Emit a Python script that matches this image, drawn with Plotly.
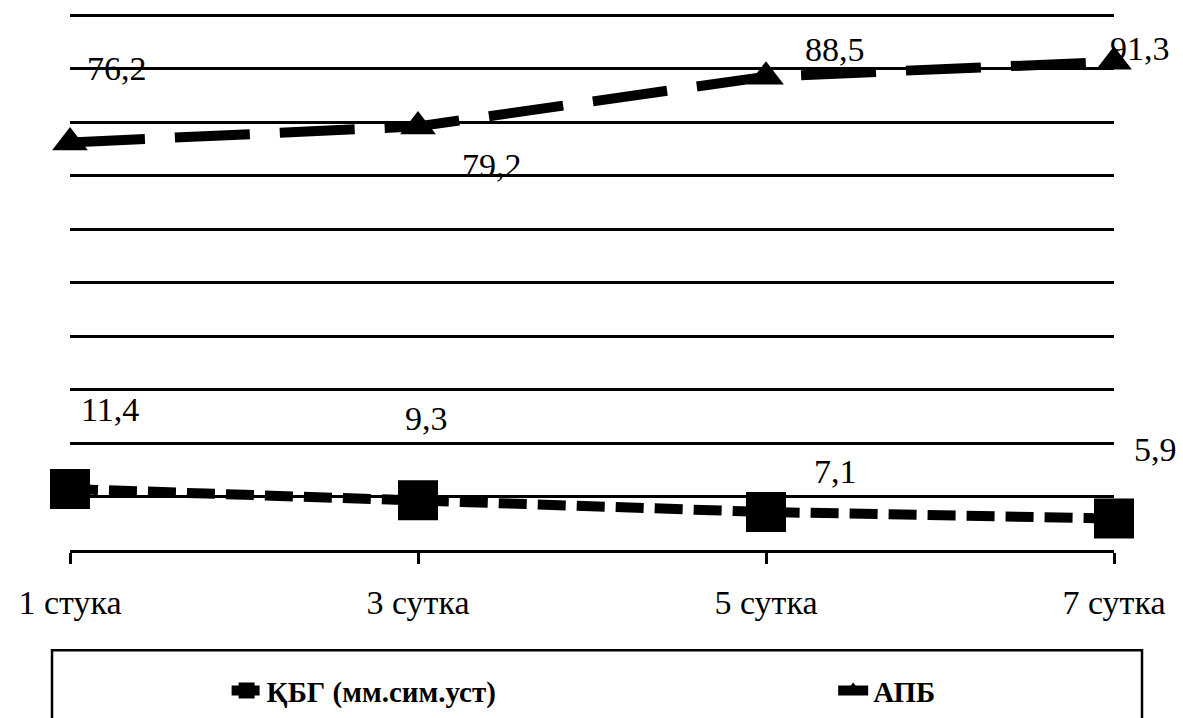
import plotly.graph_objects as go

categories = ["1 стука", "3 сутка", "5 сутка", "7 сутка"]
kbg_values = [11.4, 9.3, 7.1, 5.9]
apb_values = [76.2, 79.2, 88.5, 91.3]
kbg_labels = ["11,4", "9,3", "7,1", "5,9"]
apb_labels = ["76,2", "79,2", "88,5", "91,3"]
series_names = ["ҚБГ (мм.сим.уст)", "АПБ"]

FONT = "Liberation Serif"

fig = go.Figure()
fig.add_trace(go.Scatter(
    x=categories, y=kbg_values, name=series_names[0], mode="lines+markers",
    line=dict(color="black", width=10, dash="28px,11px"),
    marker=dict(symbol="square", size=40, color="black"),
    cliponaxis=False, legend="legend",
))
fig.add_trace(go.Scatter(
    x=categories, y=apb_values, name=series_names[1], mode="lines+markers",
    line=dict(color="black", width=10, dash="75px,30px"),
    marker=dict(symbol="triangle-up", size=31, color="black"),
    cliponaxis=False, legend="legend2",
))

# data labels (pixel offsets from each point)
kbg_shift = [(40, 80), (8, 82), (69, 41), (41, 69)]
apb_shift = [(47, 74), (74, -39), (69, 27), (26, 13)]
for cat, val, lab, (dx, dy) in zip(categories, kbg_values, kbg_labels, kbg_shift):
    fig.add_annotation(x=cat, y=val, text=lab, showarrow=False, xshift=dx, yshift=dy,
                       font=dict(family=FONT, size=34, color="black"))
for cat, val, lab, (dx, dy) in zip(categories, apb_values, apb_labels, apb_shift):
    fig.add_annotation(x=cat, y=val, text=lab, showarrow=False, xshift=dx, yshift=dy,
                       font=dict(family=FONT, size=34, color="black"))

# legend frame
fig.add_shape(type="rect", xref="paper", yref="paper",
              x0=(52 - 70) / 1044, x1=(1142 - 70) / 1044,
              y0=(550 - 650) / 535, y1=(550 - 730) / 535,
              line=dict(color="black", width=2.5), fillcolor="rgba(0,0,0,0)", layer="above")

legend_common = dict(
    orientation="h", y=-0.262, yanchor="middle", xanchor="left",
    font=dict(family=FONT, size=29, color="black", weight="bold"),
    bgcolor="rgba(0,0,0,0)", borderwidth=0, itemsizing="trace",
)

fig.update_layout(
    width=1183, height=718,
    margin=dict(l=70, r=69, t=13, b=168, autoexpand=False),
    paper_bgcolor="white", plot_bgcolor="white",
    font=dict(family=FONT, color="black"),
    showlegend=True,
    legend=dict(x=0.150, **legend_common),
    legend2=dict(x=0.731, **legend_common),
    xaxis=dict(
        range=[0, 3], showgrid=False, zeroline=False,
        showline=True, linecolor="black", linewidth=2.5,
        ticks="outside", ticklen=11, tickwidth=2.5, tickcolor="black",
        ticklabelstandoff=9,
        tickfont=dict(family=FONT, size=34, color="black"),
    ),
    yaxis=dict(
        range=[0, 100.4], dtick=10, showgrid=True, gridcolor="black", gridwidth=2.5,
        showticklabels=False, zeroline=False, showline=False, ticks="",
    ),
)

fig.write_html("out.html")
